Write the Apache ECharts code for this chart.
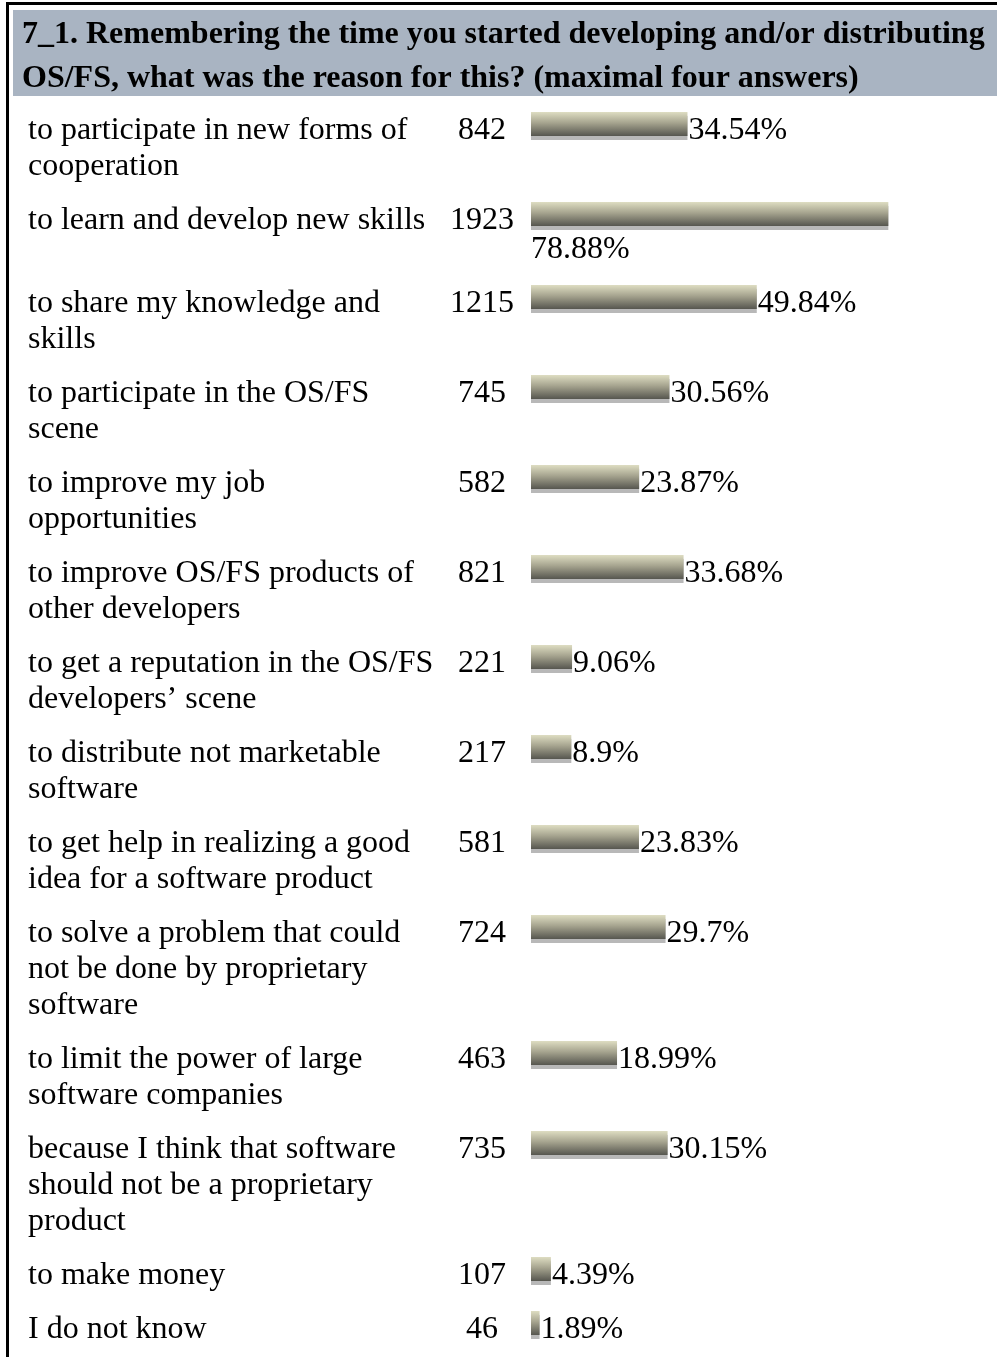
<!DOCTYPE html>
<html>
<head>
<meta charset="utf-8">
<script src="https://cdn.jsdelivr.net/npm/echarts@6/dist/echarts.min.js"></script>
<style>
html,body{margin:0;padding:0;background:#fff;}
#chart{width:997px;height:1357px;}
</style>
</head>
<body>
<div id="chart"></div>
<script>
const titleText = "7_1. Remembering the time you started developing and/or distributing\nOS/FS, what was the reason for this? (maximal four answers)";

const categories = [
  "to participate in new forms of\ncooperation",
  "to learn and develop new skills",
  "to share my knowledge and\nskills",
  "to participate in the OS/FS\nscene",
  "to improve my job\nopportunities",
  "to improve OS/FS products of\nother developers",
  "to get a reputation in the OS/FS\ndevelopers’ scene",
  "to distribute not marketable\nsoftware",
  "to get help in realizing a good\nidea for a software product",
  "to solve a problem that could\nnot be done by proprietary\nsoftware",
  "to limit the power of large\nsoftware companies",
  "because I think that software\nshould not be a proprietary\nproduct",
  "to make money",
  "I do not know"
];

const counts = [842, 1923, 1215, 745, 582, 821, 221, 217, 581, 724, 463, 735, 107, 46];

const percents = [34.54, 78.88, 49.84, 30.56, 23.87, 33.68, 9.06, 8.9, 23.83, 29.7, 18.99, 30.15, 4.39, 1.89];

const FONT = "'Liberation Serif', 'Times New Roman', serif";
const BODY_SIZE = 32;
const LINE_H = 36;

const chart = echarts.init(document.getElementById('chart'), null, {renderer: 'canvas'});

const maxPct = Math.max(...percents);
const grids = [], xAxes = [], yAxes = [], series = [];
let rowTop = 112;

const barStyle = {
  color: new echarts.graphic.LinearGradient(0, 0, 0, 1, [
    {offset: 0, color: '#deddc2'},
    {offset: 0.45, color: '#a6a48f'},
    {offset: 1, color: '#56564f'}
  ]),
  shadowColor: '#b8b8b8',
  shadowOffsetY: 4,
  shadowOffsetX: 0,
  shadowBlur: 0
};

categories.forEach((cat, i) => {
  const lines = cat.split('\n').length;
  const wrapBelow = percents[i] === maxPct;
  grids.push({left: 531, top: rowTop, width: 453, height: 24, containLabel: false});
  xAxes.push({gridIndex: i, type: 'value', min: 0, max: 100, show: false});
  const labelBase = {
    verticalAlign: 'top',
    padding: [-11, 0, 0, 0],
    lineHeight: LINE_H,
    fontSize: BODY_SIZE,
    fontFamily: FONT,
    color: '#000'
  };
  yAxes.push({
    gridIndex: i, type: 'category', position: 'left', data: [cat],
    axisLine: {show: false}, axisTick: {show: false}, splitLine: {show: false},
    axisLabel: Object.assign({align: 'left', margin: 503}, labelBase)
  });
  yAxes.push({
    gridIndex: i, type: 'category', position: 'left', data: [String(counts[i])],
    axisLine: {show: false}, axisTick: {show: false}, splitLine: {show: false},
    axisLabel: Object.assign({align: 'center', margin: 49}, labelBase)
  });
  series.push({
    type: 'bar',
    xAxisIndex: i,
    yAxisIndex: 2 * i,
    data: [percents[i]],
    barWidth: 24,
    itemStyle: barStyle,
    label: wrapBelow ? {
      show: true, position: [0, '100%'], align: 'left', verticalAlign: 'top',
      offset: [0, 6], formatter: p => p.value + '%',
      fontSize: BODY_SIZE, fontFamily: FONT, color: '#000', lineHeight: 36
    } : {
      show: true, position: 'right', distance: 1, offset: [0, 7],
      formatter: p => p.value + '%',
      fontSize: BODY_SIZE, fontFamily: FONT, color: '#000'
    }
  });
  rowTop += 18 + LINE_H * lines + (wrapBelow ? 29 : 0);
});

chart.setOption({
  animation: false,
  backgroundColor: '#fff',
  title: {
    text: titleText,
    left: 22, top: 13, z: 10, padding: 0,
    textStyle: {fontFamily: FONT, fontWeight: 'bold', fontSize: 32, lineHeight: 44, color: '#000'}
  },
  graphic: [
    {type: 'rect', z: 0, shape: {x: 13, y: 10, width: 984, height: 86}, style: {fill: '#a9b4c2'}},
    {type: 'rect', z: 0, shape: {x: 6, y: 2, width: 991, height: 3}, style: {fill: '#000'}},
    {type: 'rect', z: 0, shape: {x: 6, y: 2, width: 3, height: 1355}, style: {fill: '#000'}}
  ],
  grid: grids,
  xAxis: xAxes,
  yAxis: yAxes,
  series: series
});
</script>
</body>
</html>
